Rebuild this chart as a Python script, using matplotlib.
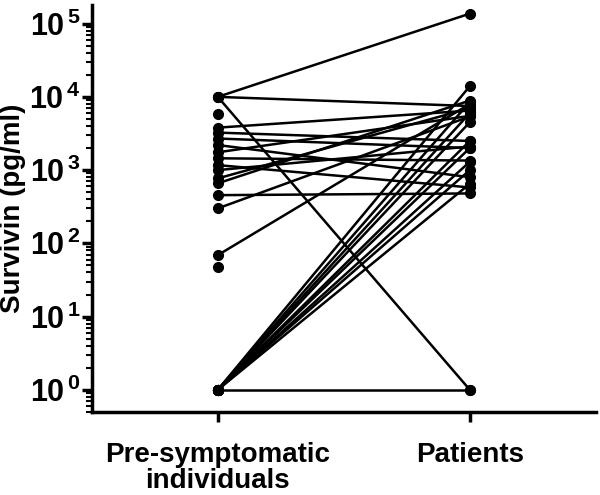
import numpy as np
import matplotlib
matplotlib.use("Agg")
import matplotlib.pyplot as plt
import matplotlib.ticker as mtick

plt.rcParams["font.family"] = ["Liberation Sans", "DejaVu Sans"]
plt.rcParams["mathtext.fontset"] = "custom"
plt.rcParams["mathtext.rm"] = "Liberation Sans:bold"
plt.rcParams["mathtext.bf"] = "Liberation Sans:bold"

groups = ["Pre-symptomatic\nindividuals", "Patients"]

# paired survivin values (pg/ml); nan = no partner value
pre = [10000, 10000, 10000, 5900, 3800, 3250, 2700, 2200, 1750, 1450,
       1170, 1000, 770, 660, 455, 300, 69, 47,
       1, 1, 1, 1, 1, 1, 1, 1, 1, 1]
patients = [137000, 7500, 1, np.nan, 6500, 2500, 2000, 800, 5500, 1350,
            580, 2100, 7000, 8900, 480, 5400, 8000, np.nan,
            14000, 8500, 6000, 4500, 2500, 2000, 1300, 1000, 650, 1]

fig = plt.figure(figsize=(6.0, 4.95), dpi=100)
ax = fig.add_axes([0.153, 0.168, 0.84, 0.822])

for a, b in zip(pre, patients):
    ax.plot([0, 1], [a, b], color="black", lw=1.8, marker="o",
            markersize=7, markerfacecolor="black", markeredgecolor="black",
            solid_capstyle="round", zorder=3)

ax.set_yscale("log")
ax.set_ylim(0.5, 1.8e5)
ax.set_xlim(-0.5, 1.5)

ax.yaxis.set_major_locator(mtick.LogLocator(base=10, numticks=10))
ax.yaxis.set_minor_locator(mtick.LogLocator(base=10, subs=np.arange(2, 10), numticks=20))
ax.yaxis.set_major_formatter(mtick.FuncFormatter(
    lambda v, pos: r"$\mathbf{10^{\,%d}}$" % int(round(np.log10(v)))))
ax.yaxis.set_minor_formatter(mtick.NullFormatter())

ax.set_xticks([0, 1])
ax.set_xticklabels(groups, fontsize=20, fontweight="bold", linespacing=1.0)
ax.tick_params(axis="x", length=7, width=2.5, pad=15)
ax.tick_params(axis="y", which="major", length=7, width=2.5, labelsize=22, pad=1)
ax.tick_params(axis="y", which="minor", length=4, width=1.5)

for s in ["top", "right"]:
    ax.spines[s].set_visible(False)
for s in ["left", "bottom"]:
    ax.spines[s].set_linewidth(2.5)

ax.set_ylabel("Survivin (pg/ml)", fontsize=20, fontweight="bold", labelpad=2)

fig.savefig("out.png", dpi=100)
